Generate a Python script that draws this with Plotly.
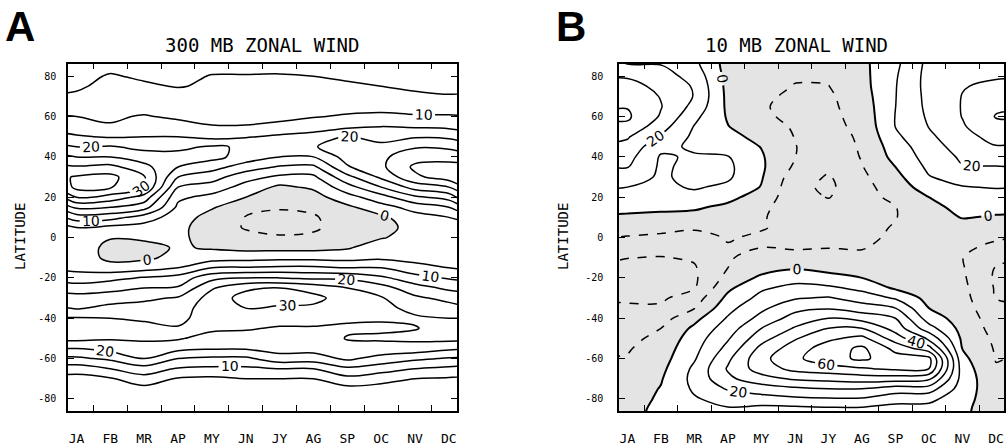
import plotly.graph_objects as go

# ---------------- data ----------------
months = ["JA", "FB", "MR", "AP", "MY", "JN", "JY", "AG", "SP", "OC", "NV", "DC"]
# latitude of each value in a month column (north -> south)
lats = list(range(90, -95, -5))

# 300 mb zonal wind (m/s); one list per month, values from 90N down to 90S
u300 = [
    # JA
    [1, 2.5, 4, 4.5, 5.5, 8, 10, 12.5, 15.5, 20, 25, 30.5, 35.5, 36.5, 30, 21, 12.5, 5, 3,
     3, 3, 4, 6.5, 13, 16.5, 19.5, 25.5, 27.5, 26.5, 20, 14, 7.5, 3, 2, 2, 1, 0.5],
    # FB
    [1, 4.2, 5.3, 6, 7, 8.5, 9.5, 10.3, 14.5, 20.5, 25, 31.5, 36.5, 35.5, 28, 20, 12, 3.5, 0.3,
     -1.5, -1.3, 2, 8.5, 13.5, 17.5, 21.5, 25, 26.5, 25.5, 22, 16, 10, 4.5, 2.5, 2, 1.5, 0.5],
    # MR
    [1, 3.5, 4.5, 5.5, 7, 8.5, 10.3, 12.5, 15, 18.5, 22.5, 26.5, 30.5, 30.5, 23, 17, 7.5, 3, 0.8,
     -1.5, -1, 3, 10.5, 15, 19, 22, 24.5, 26, 25.8, 23, 20, 13, 8, 3.5, 2.5, 2, 0.5],
    # AP
    [1, 3, 4, 4.8, 6.5, 8, 9.3, 11.5, 15, 19, 21.5, 20, 15, 10, 6, 4, 2.5, 1.5, 1,
     0.5, 1.5, 5, 12, 15.5, 20.5, 22.5, 24, 25.3, 25.5, 21.5, 15, 9.5, 4.5, 3, 2, 1.5, 0.5],
    # MY
    [1, 4, 5.2, 5.5, 6.5, 7.5, 8.5, 10.3, 13.5, 20.5, 21.5, 17, 12, 8, 3.5, 0.5, -2, -3, -2,
     -0.5, 2.5, 10, 18.5, 24.5, 27, 28, 27, 26, 23, 20.5, 14, 9, 4, 2.5, 2, 1.5, 0.5],
    # JN
    [1, 4, 5.2, 5.5, 6.5, 7.5, 8.5, 10.3, 14.5, 19.5, 18, 12.5, 7, 3, 0, -3.5, -5.2, -5.3, -4,
     -1.5, 3, 10.5, 20, 29, 32, 30, 27.5, 25.5, 23, 20.5, 14, 9, 5, 3, 2, 1.5, 0.5],
    # JY
    [1, 4, 5.3, 6, 7, 8, 9, 11, 16, 19, 15, 9.5, 4, -1, -3, -4.5, -6.5, -6.5, -4.5,
     -1.5, 3.5, 11, 20, 30, 33, 29, 27, 24.5, 23, 22, 18, 10, 5, 3, 2, 1.5, 0.5],
    # AG
    [1, 4, 5, 5.8, 7, 8.5, 9.7, 12.5, 17, 19.5, 15, 9, 4, 0.8, -2, -4, -5.5, -5.8, -4,
     -1.5, 3.5, 11, 19, 28, 31.5, 29, 27, 24.5, 23, 22, 17.5, 10, 5, 3, 2, 1.5, 0.5],
    # SP
    [1, 3.5, 4.5, 5.5, 7, 8.5, 10.5, 14, 20.5, 23.5, 22, 19.5, 13.5, 8, 3, -1, -2.5, -2.5, -2,
     -0.5, 3, 10, 19, 25, 27.5, 27, 25.5, 24.5, 25.2, 24, 21, 14, 8.5, 3.5, 2.5, 1.5, 0.5],
    # OC
    [1, 3, 4, 5, 6.5, 8.5, 11, 15, 18, 21.5, 24, 24, 21, 15, 8, 3, -1, -1.5, -0.3,
     2.5, 4, 10, 16, 22, 25.5, 26, 25.3, 24.5, 25.5, 23.5, 18, 12.5, 6.5, 3.5, 2.5, 1.5, 0.5],
    # NV
    [1, 3, 3.8, 4.5, 5.5, 8, 10.5, 14.5, 19.5, 24.5, 28, 31, 29, 22, 14, 7, 3, 1.5, 1.5,
     2.5, 3.5, 6.5, 12, 17, 21, 24, 25.5, 24.8, 26, 23, 16, 10, 5, 3, 2, 1.5, 0.5],
    # DC
    [1, 2.5, 3.5, 4.2, 5.2, 7.5, 10.5, 14, 19, 24, 28, 32, 32.5, 25, 17, 10, 5, 3, 2.5,
     2.5, 3, 5, 9.5, 14, 18.5, 22, 25, 26.5, 26.5, 21, 14.5, 9, 4.5, 2.5, 2, 1.5, 0.5],
]

# 10 mb zonal wind (m/s); one list per month, values from 90N down to 90S
u10 = [
    # JA
    [18, 20.5, 29, 33.5, 36.5, 39.5, 41.5, 38, 31, 27, 23.5, 20.5, 15, 10, 6, 2.5, -1.5, -7, -10.5,
     -15.5, -19.8, -22.5, -24, -23, -21.5, -18.5, -16, -14, -12.5, -10.8, -9.3, -8, -6.5, -5.5, -4.5, -3.5, -3],
    # FB
    [17, 20.5, 24, 27.5, 29.5, 30.5, 29, 24, 19, 12.5, 9, 8.5, 8.5, 8, 5.5, 2, -2.5, -7, -12,
     -16.5, -20.5, -23, -24, -23, -21.5, -18.5, -14, -10, -7.5, -5.5, -4, -2.5, -0.8, 0.5, 1.5, 2.5, 3],
    # MR
    [11, 13, 16.5, 19, 19.5, 17, 12.5, 9.5, 8, 8.5, 11, 12.5, 13, 11, 7, 1.5, -3.5, -9, -12.5,
     -15.5, -19, -20.8, -21.5, -20.5, -15, -10.5, -3, 2, 5, 7, 9, 12, 13, 11.5, 9, 7, 5],
    # AP
    [-4, -4, -3.5, -3, -2.5, -2, -1, 0.3, 2.5, 5.5, 10.5, 12, 11.5, 8, 3, -2.5, -6, -8.5, -9.5,
     -10.5, -10.5, -10, -7, -2, 2.5, 7, 11, 15, 19, 23, 28, 31, 28, 21, 14, 9, 6],
    # MY
    [-5, -6, -7, -8, -8.5, -9.3, -8.5, -6, -2.5, -0.3, 1, 1.5, 0.8, -0.5, -5, -8.5, -9.5, -9.5, -11,
     -10, -8, -4, 2, 8.5, 13, 18, 23, 30, 36, 43, 47, 45, 36, 25, 16, 7, 3],
    # JN
    [-6, -8, -9.5, -10.2, -11.5, -12, -12, -11, -10.3, -9.7, -9.8, -11.5, -15, -17, -15.5, -13.5, -12.5, -12, -11.5,
     -10.5, -8, -1, 6, 13, 19, 27, 34, 41, 49, 55, 58, 53, 41.5, 28, 18, 7, 3],
    # JY
    [-6, -7.5, -9, -10.2, -11.5, -12, -12.5, -13, -14, -15, -16, -18, -21, -22, -20.5, -16, -14, -13, -12,
     -10.2, -7, -3, 3, 12, 21, 29, 40, 50, 58, 65, 66, 56, 43, 30, 19, 8, 3],
    # AG
    [-2, -2.5, -3, -3.5, -4.5, -5.5, -6.5, -7.5, -8.5, -9, -9.5, -10.5, -12, -13, -13, -12.5, -12, -12, -12,
     -10.5, -8, -5, 0, 7.5, 15, 25, 36, 50, 63, 72, 72, 59, 45, 30, 19, 8, 3],
    # SP
    [7, 8, 9, 9.5, 9.7, 9.9, 10.3, 10.2, 8, 5, 3, 0, -3, -5.5, -8, -10.3, -10.3, -9.5, -8.5,
     -7.5, -6.5, -6, -4, -1.5, 9, 20, 30, 36, 45, 57, 64, 62, 45, 25, 14, 6, 2],
    # OC
    [22, 23, 23.5, 23.5, 23, 22.5, 21.5, 20.3, 18, 16, 14, 12, 9.5, 5, 0, -3, -5, -6.5, -7,
     -6.5, -6, -6, -6, -5.5, -3.5, 0, 5, 14, 28, 44, 63, 60, 42, 25, 13, 6, 3],
    # NV
    [25, 27, 28.5, 29.5, 30.3, 30.5, 30.3, 29, 27, 24, 21.5, 19.5, 14, 9.5, 6, 3, 0.5, -3, -6.5,
     -8.5, -9.8, -9.3, -8.5, -7.5, -6.5, -5.5, -4.5, -3.5, -2, -0.3, 2.5, 5, 6, 5, 3, 1.5, 1],
    # DC
    [22, 26, 29, 32, 35, 38.5, 40.5, 37.5, 33, 29.5, 25, 19.5, 15, 10.5, 6.5, 3, -1, -5, -9,
     -12, -17, -20.5, -21.5, -21, -20.3, -17.5, -15, -13.5, -12, -11, -10.3, -9.5, -8, -6.5, -5, -4, -3],
]

lat_ticks = [-80, -60, -40, -20, 0, 20, 40, 60, 80]
lat_ticktext = ["-80", "-60", "-40", "-20", "0", "20", "40", "60", "80"]
month_edges = [k + 0.5 for k in range(11)]
titles = ["300 MB ZONAL WIND", "10 MB ZONAL WIND"]
panel_letters = ["A", "B"]

# ---------------- helpers ----------------
W, H = 1008, 445


def grid(cols):
    # wrap the annual cycle one month on each side so the field reaches the frame
    wrapped = [cols[-1]] + cols + [cols[0]]
    xs = [-1] + list(range(12)) + [12]
    rows = [list(r) for r in zip(*wrapped)]  # rows follow lats (north->south)
    ys = lats[::-1]
    rows = rows[::-1]
    return xs, ys, rows


BLACK = [[0, "black"], [1, "black"]]
LABELFONT = dict(family="DejaVu Sans", size=14, color="black")


def line_trace(xs, ys, z, start, end, size, labels, width=1.5, dash="solid", xa="x", ya="y"):
    return go.Contour(
        x=xs, y=ys, z=z, xaxis=xa, yaxis=ya,
        autocontour=False,
        contours=dict(start=start, end=end, size=size, coloring="lines",
                      showlabels=labels, labelfont=LABELFONT),
        colorscale=BLACK, showscale=False,
        line=dict(width=width, dash=dash, smoothing=1.0),
        hoverinfo="skip",
    )


def fill_trace(xs, ys, z, xa, ya):
    # constraint contours shade the region that fails the test, i.e. z < 0 here
    return go.Contour(
        x=xs, y=ys, z=z, xaxis=xa, yaxis=ya,
        contours=dict(type="constraint", operation=">", value=0),
        fillcolor="rgb(228,228,228)",
        line=dict(width=0, smoothing=1.0),
        showscale=False, hoverinfo="skip",
    )


fig = go.Figure()

# ---- panel A (300 mb) ----
xa_, ya_, za = grid(u300)
fig.add_trace(fill_trace(xa_, ya_, za, "x", "y"))
fig.add_trace(line_trace(xa_, ya_, za, 5, 35, 10, False, xa="x", ya="y"))
fig.add_trace(line_trace(xa_, ya_, za, 10, 30, 10, True, xa="x", ya="y"))
fig.add_trace(line_trace(xa_, ya_, za, 0, 0, 5, True, xa="x", ya="y"))
fig.add_trace(line_trace(xa_, ya_, za, -5, -5, 5, False, dash="dash", xa="x", ya="y"))

# ---- panel B (10 mb) ----
xb_, yb_, zb = grid(u10)
fig.add_trace(fill_trace(xb_, yb_, zb, "x2", "y2"))
fig.add_trace(line_trace(xb_, yb_, zb, 10, 70, 20, False, xa="x2", ya="y2"))
fig.add_trace(line_trace(xb_, yb_, zb, 20, 60, 20, True, xa="x2", ya="y2"))
fig.add_trace(line_trace(xb_, yb_, zb, 0, 0, 10, True, width=2.0, xa="x2", ya="y2"))
fig.add_trace(line_trace(xb_, yb_, zb, -20, -10, 10, False, dash="dash", xa="x2", ya="y2"))

# ---------------- layout ----------------
mono = "DejaVu Sans Mono"
XR = [-0.25, 11.24]


def xaxis(domain, anchor):
    # frame + month-boundary tick marks on bottom and top
    return dict(
        domain=domain, range=XR, anchor=anchor,
        tickvals=month_edges, ticks="inside", ticklen=6, tickwidth=1.3,
        tickcolor="black", showticklabels=False,
        showline=True, linecolor="black", linewidth=1.5, mirror="ticks",
        showgrid=False, zeroline=False,
    )


def xlabel_axis(overlay, anchor):
    # month names centred on each month
    return dict(
        overlaying=overlay, anchor=anchor, range=XR, side="bottom",
        tickvals=list(range(12)), ticktext=months, ticks="",
        ticklabelstandoff=18,
        tickfont=dict(family=mono, size=13, color="black"),
        showline=False, showgrid=False, zeroline=False,
    )


def yaxis(domain, anchor, standoff):
    return dict(
        domain=domain, range=[-86, 86.3], anchor=anchor,
        tickvals=lat_ticks, ticktext=lat_ticktext,
        ticks="inside", ticklen=6, tickwidth=1.2, tickcolor="black",
        ticklabelstandoff=standoff,
        tickfont=dict(family=mono, size=10, color="black"),
        showline=True, linecolor="black", linewidth=1.5, mirror="ticks",
        showgrid=False, zeroline=False,
    )


ydom = [1 - 411 / H, 1 - 63.5 / H]
fig.update_layout(
    width=W, height=H,
    margin=dict(l=0, r=0, t=0, b=0),
    paper_bgcolor="white", plot_bgcolor="white",
    showlegend=False,
    xaxis=xaxis([68 / W, 457 / W], "y"),
    yaxis=yaxis(ydom, "x", 8),
    xaxis2=xaxis([619 / W, 1004 / W], "y2"),
    yaxis2=yaxis(ydom, "x2", 12),
    xaxis3=xlabel_axis("x", "y"),
    xaxis4=xlabel_axis("x2", "y2"),
)
# empty carriers so the month-label axes are drawn
fig.add_trace(go.Scatter(x=[None], y=[None], xaxis="x3", yaxis="y", showlegend=False, hoverinfo="skip"))
fig.add_trace(go.Scatter(x=[None], y=[None], xaxis="x4", yaxis="y2", showlegend=False, hoverinfo="skip"))

ann = []
for cx, t in zip([261.5, 796.5], titles):
    ann.append(dict(text=t, x=cx / W, y=1 - 45 / H, xref="paper", yref="paper",
                    xanchor="center", yanchor="middle", showarrow=False,
                    font=dict(family=mono, size=19, color="black")))
for cx, t in zip([20, 571], panel_letters):
    ann.append(dict(text="<b>%s</b>" % t, x=cx / W, y=1 - 27 / H, xref="paper", yref="paper",
                    xanchor="center", yanchor="middle", showarrow=False,
                    font=dict(family="Liberation Sans", size=42, color="black")))
for cx in [20, 563]:
    ann.append(dict(text="LATITUDE", x=cx / W, y=1 - 237 / H, xref="paper", yref="paper",
                    xanchor="center", yanchor="middle", showarrow=False, textangle=-90,
                    font=dict(family=mono, size=14, color="black")))
fig.update_layout(annotations=ann)

fig.write_html("out.html")
